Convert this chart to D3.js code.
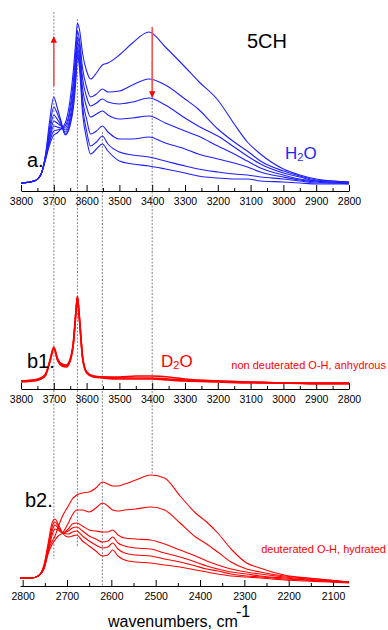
<!DOCTYPE html>
<html>
<head>
<meta charset="utf-8">
<script src="https://cdn.jsdelivr.net/npm/d3@7"></script>
<style>
  body { margin: 0; background: #fff; }
  svg { display: block; font-family: "Liberation Sans", Arial, sans-serif; }
  .axis path, .axis line { stroke: #000; }
  .axis text { font-size: 10.5px; fill: #000; font-family: "Liberation Sans", Arial, sans-serif; }
</style>
</head>
<body>
<div id="chart"></div>
<script>
// ---- data (absorbance) ----
const ohWavenumbers = [3800, 3760, 3740, 3725, 3712, 3700, 3690, 3678, 3665, 3650, 3640, 3632, 3628, 3622, 3612,
  3600, 3588, 3570, 3552, 3535, 3500, 3460, 3410, 3360, 3300, 3260, 3200, 3150, 3110, 3070, 3000, 2950, 2900, 2850, 2800];

const h2oSpectra = [
  [0.08,0.10,0.16,0.32,0.47, 0.56,0.58,0.62,0.68,0.92, 1.22,1.54,1.68,1.62,1.37, 1.20,1.12,1.18,1.26,1.28, 1.36,1.48,1.59,1.44,1.24, 1.10,0.91,0.67,0.49,0.37, 0.22,0.16,0.12,0.10,0.09],
  [0.08,0.10,0.16,0.32,0.50, 0.60,0.61,0.62,0.65,0.84, 1.12,1.44,1.60,1.52,1.22, 1.04,0.94,0.97,1.02,0.99, 1.00,1.06,1.12,1.06,0.92, 0.82,0.62,0.49,0.40,0.30, 0.20,0.15,0.11,0.10,0.09],
  [0.08,0.10,0.16,0.33,0.53, 0.65,0.64,0.63,0.63,0.80, 1.04,1.37,1.54,1.46,1.12, 0.94,0.85,0.88,0.92,0.89, 0.87,0.89,0.93,0.86,0.73, 0.65,0.55,0.44,0.35,0.27, 0.18,0.14,0.10,0.09,0.08],
  [0.08,0.10,0.16,0.34,0.56, 0.70,0.68,0.65,0.61,0.74, 0.97,1.30,1.49,1.40,1.02, 0.84,0.74,0.77,0.80,0.76, 0.72,0.73,0.75,0.68,0.60, 0.55,0.45,0.37,0.30,0.23, 0.16,0.12,0.10,0.09,0.08],
  [0.08,0.10,0.16,0.35,0.60, 0.76,0.72,0.66,0.59,0.70, 0.92,1.24,1.44,1.34,0.92, 0.72,0.57,0.60,0.65,0.59, 0.52,0.52,0.54,0.48,0.42, 0.37,0.32,0.28,0.24,0.19, 0.14,0.11,0.09,0.08,0.08],
  [0.08,0.10,0.16,0.36,0.65, 0.84,0.78,0.68,0.57,0.68, 0.88,1.20,1.40,1.29,0.84, 0.60,0.45,0.49,0.55,0.47, 0.39,0.36,0.34,0.30,0.25, 0.22,0.19,0.17,0.16,0.14, 0.12,0.10,0.08,0.08,0.07],
  [0.08,0.10,0.16,0.37,0.72, 0.94,0.84,0.70,0.56,0.66, 0.84,1.14,1.36,1.24,0.77, 0.52,0.37,0.42,0.47,0.40, 0.30,0.27,0.25,0.22,0.18, 0.15,0.13,0.12,0.12,0.10, 0.09,0.08,0.07,0.07,0.07]
];

const anhydrousWavenumbers = [3800, 3760, 3740, 3725, 3712, 3700, 3688, 3675, 3662, 3650, 3640, 3632, 3628, 3622, 3612,
  3600, 3580, 3550, 3500, 3450, 3400, 3350, 3300, 3200, 3100, 3000, 2900, 2800];

const anhydrousSpectra = [
  [0.08,0.09,0.11,0.15,0.28, 0.42,0.30,0.25,0.24,0.30, 0.48,0.80,0.93,0.72,0.32, 0.17,0.13,0.12,0.12,0.13, 0.13,0.12,0.10,0.08,0.07, 0.06,0.06,0.06],
  [0.07,0.08,0.10,0.14,0.27, 0.40,0.28,0.23,0.22,0.28, 0.46,0.78,0.91,0.70,0.30, 0.16,0.12,0.11,0.10,0.10, 0.10,0.09,0.08,0.07,0.06, 0.06,0.05,0.05],
  [0.08,0.09,0.10,0.14,0.28, 0.41,0.29,0.24,0.23,0.29, 0.47,0.79,0.92,0.71,0.31, 0.17,0.13,0.12,0.11,0.11, 0.11,0.10,0.09,0.08,0.07, 0.06,0.06,0.06]
];

const odWavenumbers = [2806, 2780, 2765, 2752, 2742, 2733, 2727, 2720, 2710, 2697, 2688, 2678, 2665, 2650, 2635,
  2620, 2608, 2597, 2585, 2570, 2545, 2511, 2480, 2445, 2410, 2385, 2360, 2330, 2295, 2265, 2210, 2160, 2110, 2064];

const hydratedSpectra = [
  [0.08,0.08,0.10,0.17,0.36, 0.45,0.50,0.59,0.70,0.80, 0.87,0.91,0.93,0.94,0.98, 1.04,1.02,1.00,1.00,1.02, 1.06,1.11,1.08,0.90,0.73, 0.64,0.53,0.37,0.23,0.18, 0.11,0.08,0.06,0.04],
  [0.08,0.08,0.10,0.17,0.33, 0.42,0.46,0.50,0.53,0.63, 0.71,0.76,0.76,0.74,0.78, 0.83,0.80,0.76,0.75,0.76, 0.77,0.79,0.76,0.63,0.49, 0.42,0.34,0.24,0.17,0.14, 0.10,0.08,0.06,0.04],
  [0.08,0.08,0.10,0.18,0.35, 0.52,0.57,0.56,0.53,0.57, 0.62,0.63,0.60,0.56,0.55, 0.54,0.54,0.56,0.51,0.48, 0.47,0.46,0.42,0.36,0.30, 0.25,0.21,0.17,0.14,0.12, 0.09,0.07,0.05,0.04],
  [0.08,0.08,0.10,0.19,0.38, 0.56,0.61,0.58,0.53,0.55, 0.58,0.59,0.55,0.50,0.47, 0.44,0.45,0.49,0.43,0.40, 0.38,0.37,0.33,0.29,0.24, 0.20,0.17,0.14,0.12,0.10, 0.08,0.06,0.05,0.04],
  [0.08,0.08,0.10,0.20,0.41, 0.60,0.64,0.60,0.53,0.52, 0.54,0.55,0.50,0.45,0.41, 0.38,0.39,0.43,0.37,0.33, 0.31,0.30,0.27,0.24,0.20, 0.17,0.15,0.12,0.10,0.09, 0.07,0.06,0.05,0.04],
  [0.08,0.08,0.10,0.21,0.44, 0.64,0.67,0.62,0.53,0.49, 0.50,0.51,0.45,0.40,0.35, 0.30,0.31,0.36,0.30,0.26, 0.24,0.23,0.21,0.19,0.16, 0.14,0.12,0.10,0.09,0.08, 0.06,0.05,0.04,0.03]
];

const ohTicks = [3800, 3700, 3600, 3500, 3400, 3300, 3200, 3100, 3000, 2900, 2800];
const ohMinorTicks = [3750, 3650, 3550, 3450, 3350, 3250, 3150, 3050, 2950, 2850];
const odTicks = [2800, 2700, 2600, 2500, 2400, 2300, 2200, 2100];
const odMinorTicks = [2750, 2650, 2550, 2450, 2350, 2250, 2150];

// dotted guide lines: wavenumber (O-H scale), top end (panel a), bottom end (panel b2)
const guideWavenumbers = [3700, 3628, 3552, 3400];
const guideTopLevels = [1.79, 1.72, 0.59, 1.29];
const guideBottomLevels = [0.27, 0.39, 0, 1.12];

// red arrows in panel a
const arrowWavenumbers = [3700, 3400];
const arrowFrom = [1.05, 1.64];
const arrowTo = [1.54, 0.94];

// ---- layout ----
const dimensions = { width: 388, height: 630 };
const blue = '#1f1fff';
const red = '#ff0000';

const svg = d3.select('#chart')
  .append('svg')
  .attr('width', dimensions.width)
  .attr('height', dimensions.height);

svg.append('defs').append('marker')
  .attr('id', 'head')
  .attr('viewBox', '0 0 10 10')
  .attr('refX', 9).attr('refY', 5)
  .attr('markerWidth', 4).attr('markerHeight', 5)
  .attr('orient', 'auto')
  .append('path')
  .attr('d', 'M0,0L10,5L0,10Z')
  .attr('fill', red);

const xOH = d3.scaleLinear().domain([3800, 2800]).range([21, 349]);
const xOD = d3.scaleLinear().domain([2806, 2064]).range([20, 349]);

const panels = [
  { axisY: 191, x: xOH, ticks: ohTicks, minor: ohMinorTicks, wn: ohWavenumbers, spectra: h2oSpectra, color: blue, width: 1.1 },
  { axisY: 389, x: xOH, ticks: ohTicks, minor: ohMinorTicks, wn: anhydrousWavenumbers, spectra: anhydrousSpectra, color: red, width: 1.6 },
  { axisY: 586, x: xOD, ticks: odTicks, minor: odMinorTicks, wn: odWavenumbers, spectra: hydratedSpectra, color: red, width: 1.1 }
];

panels.forEach(p => {
  p.y = d3.scaleLinear().domain([0, 1.8]).range([p.axisY, p.axisY - 180]);
});

// guide lines go under everything
const guides = svg.append('g');
guideWavenumbers.forEach((wn, i) => {
  guides.append('line')
    .attr('x1', xOH(wn)).attr('x2', xOH(wn))
    .attr('y1', panels[0].y(guideTopLevels[i]))
    .attr('y2', panels[2].y(guideBottomLevels[i]))
    .attr('stroke', i === 0 ? '#aaa' : '#666')
    .attr('stroke-width', i === 0 ? 1.4 : 0.8)
    .attr('stroke-dasharray', '2,1.5');
});

panels.forEach(p => {
  // minor ticks
  const minorAxis = svg.append('g')
    .attr('class', 'axis')
    .attr('transform', `translate(0,${p.axisY})`)
    .call(d3.axisBottom(p.x).tickValues(p.minor).tickSize(-3).tickFormat(''));
  minorAxis.select('.domain').remove();

  // major ticks + labels
  svg.append('g')
    .attr('class', 'axis')
    .attr('transform', `translate(0,${p.axisY})`)
    .call(d3.axisBottom(p.x)
      .tickValues(p.ticks)
      .tickSize(-6)
      .tickSizeOuter(0)
      .tickPadding(7)
      .tickFormat(d3.format('d')));

  const line = d3.line()
    .x((d, i) => p.x(p.wn[i]))
    .y(d => p.y(d))
    .curve(d3.curveMonotoneX);

  svg.append('g')
    .selectAll('path')
    .data(p.spectra)
    .join('path')
    .attr('d', line)
    .attr('fill', 'none')
    .attr('stroke', p.color)
    .attr('stroke-width', p.width);
});

// arrows
arrowWavenumbers.forEach((wn, i) => {
  svg.append('line')
    .attr('x1', xOH(wn)).attr('x2', xOH(wn))
    .attr('y1', panels[0].y(arrowFrom[i]))
    .attr('y2', panels[0].y(arrowTo[i]))
    .attr('stroke', '#ff5050')
    .attr('stroke-width', 1.6)
    .attr('marker-end', 'url(#head)');
});

// labels
const label = (x, y, txt, size, color, anchor) => svg.append('text')
  .attr('x', x).attr('y', y)
  .attr('font-size', size)
  .attr('fill', color)
  .attr('text-anchor', anchor || 'start')
  .text(txt);

label(267, 48, '5CH', 20, '#000', 'middle');
label(27, 167, 'a.', 20, '#000');
label(27, 368, 'b1.', 20, '#000');
label(25, 507, 'b2.', 20, '#000');

const h2o = label(285, 159, 'H', 17, blue);
h2o.append('tspan').attr('font-size', 11).attr('dy', 2).text('2');
h2o.append('tspan').attr('dy', -2).text('O');

const d2o = label(161, 367, 'D', 17, red);
d2o.append('tspan').attr('font-size', 11).attr('dy', 2).text('2');
d2o.append('tspan').attr('dy', -2).text('O');

label(386, 369, 'non deuterated O-H, anhydrous', 11, red, 'end');
label(386, 553, 'deuterated O-H, hydrated', 11, red, 'end');

label(108, 627, 'wavenumbers, cm', 16, '#000');
label(236, 617, '-1', 16, '#000');
</script>
</body>
</html>
